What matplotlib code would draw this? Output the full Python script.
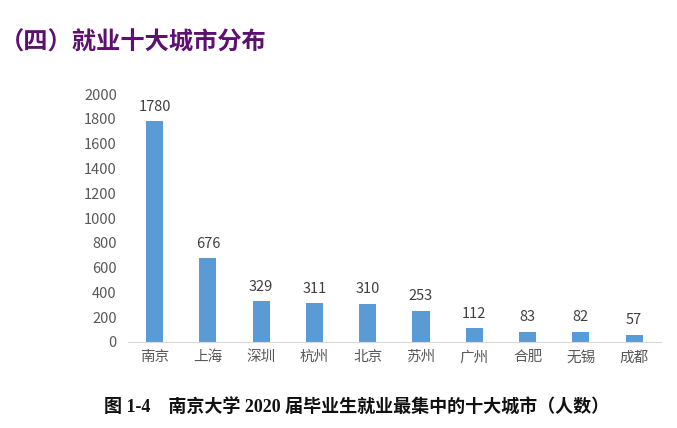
import matplotlib
matplotlib.use("Agg")
import matplotlib.pyplot as plt

plt.rcParams['font.family'] = ['Noto Sans CJK SC', 'DejaVu Sans']

cities = ["南京", "上海", "深圳", "杭州", "北京", "苏州", "广州", "合肥", "无锡", "成都"]
counts = [1780, 676, 329, 311, 310, 253, 112, 83, 82, 57]
yticks = list(range(0, 2001, 200))

fig = plt.figure(figsize=(6.77, 4.28), dpi=100)
ax = fig.add_axes([0.189, 0.201, 0.787, 0.579])

x = range(len(cities))
ax.bar(x, counts, width=0.32, color="#5B9BD5", zorder=2)
for xi, v in zip(x, counts):
    ax.text(xi, v + 60, str(v), ha="center", va="bottom", fontsize=10.5, color="#404040")

ax.set_xlim(-0.5, len(cities) - 0.5)
ax.set_ylim(0, 2000)
ax.set_yticks(yticks)
ax.set_xticks(list(x))
ax.set_xticklabels(cities, fontsize=10.5, color="#595959")
ax.tick_params(axis="y", labelsize=10.5, colors="#595959", length=0, pad=8)
ax.tick_params(axis="x", length=0, pad=6)

for side in ["top", "right", "left"]:
    ax.spines[side].set_visible(False)
ax.spines["bottom"].set_color("#D9D9D9")

fig.text(0.0, 0.90, "（四）就业十大城市分布", fontsize=17.5, fontweight="bold",
         color="#5E1070", ha="left", va="center")
fig.text(0.526, 0.047, "图 1-4    南京大学 2020 届毕业生就业最集中的十大城市（人数）",
         fontsize=13, fontweight="bold", color="#111111", ha="center", va="center",
         family=["Liberation Serif", "Noto Sans CJK SC"])

fig.savefig("out.png", dpi=100)
